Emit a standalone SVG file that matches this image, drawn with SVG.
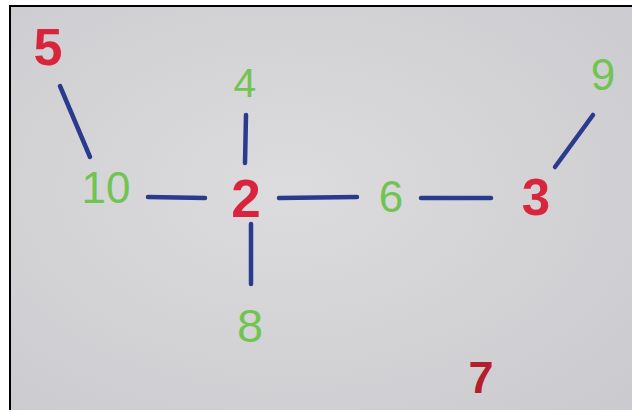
<svg xmlns="http://www.w3.org/2000/svg" width="632" height="412" viewBox="0 0 632 412">
<style>
.r{fill:#d8243c;font-family:"Liberation Sans","DejaVu Sans",sans-serif;font-weight:bold;text-anchor:middle}
.g{fill:#72c452;font-family:"Liberation Sans","DejaVu Sans",sans-serif;font-weight:normal;text-anchor:middle}
.e{stroke:#2a3b8e;stroke-width:4.5;stroke-linecap:round;fill:none}
</style>
<defs>
<radialGradient id="bg" cx="0.45" cy="0.45" r="0.75">
<stop offset="0" stop-color="#dcdcde"/>
<stop offset="1" stop-color="#cbcbcf"/>
</radialGradient>
</defs>
<rect width="632" height="412" fill="#ffffff"/>
<rect x="10" y="6" width="622" height="404" fill="url(#bg)"/>
<line x1="10" y1="5" x2="10" y2="410" stroke="#000" stroke-width="2"/>
<line x1="9" y1="6" x2="632" y2="6" stroke="#000" stroke-width="2"/>
<g id="connectors">
<line class="e" x1="60" y1="86" x2="90" y2="157"/>
<line class="e" x1="148" y1="197" x2="205" y2="198"/>
<line class="e" x1="246" y1="115" x2="245" y2="163"/>
<line class="e" x1="251" y1="224" x2="251" y2="284"/>
<line class="e" x1="279" y1="198" x2="357" y2="197"/>
<line class="e" x1="421" y1="198" x2="491" y2="198"/>
<line class="e" x1="555" y1="167" x2="593" y2="115"/>
</g>
<g id="n5"><text class="r" x="48" y="65" font-size="52">5</text></g>
<g id="n10"><text class="g" x="106" y="203" font-size="44">10</text></g>
<g id="n2"><text class="r" x="246" y="217" font-size="53">2</text></g>
<g id="n4"><text class="g" x="245" y="97" font-size="41">4</text></g>
<g id="n8"><text class="g" x="250" y="342" font-size="47">8</text></g>
<g id="n6"><text class="g" x="391" y="212" font-size="44">6</text></g>
<g id="n3"><text class="r" x="536" y="215" font-size="51">3</text></g>
<g id="n9"><text class="g" x="603" y="90" font-size="44">9</text></g>
<g id="n7"><text class="r" x="481" y="393" font-size="45" style="fill:#b51e2c">7</text></g>
</svg>
